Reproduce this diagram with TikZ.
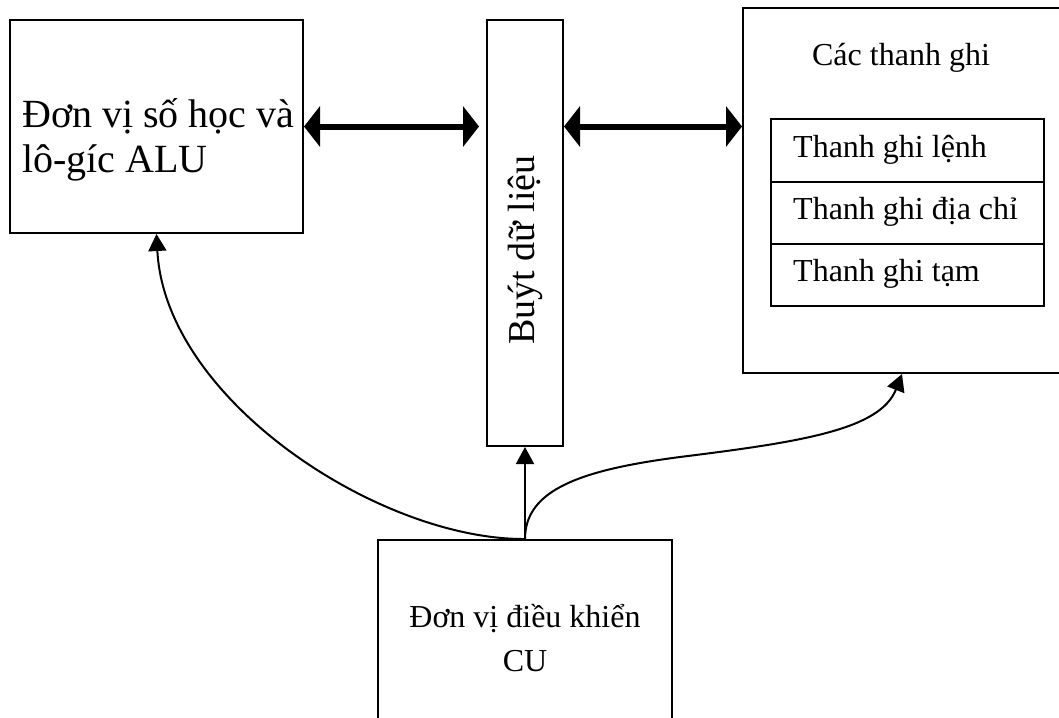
\documentclass[tikz,border=0pt]{standalone}
\usepackage{fontspec}
\setmainfont{Liberation Serif}
\usetikzlibrary{arrows.meta}
\begin{document}
\begin{tikzpicture}[x=1pt,y=-1pt,
  every node/.style={font=\fontsize{32}{44}\selectfont},
  big/.style={font=\fontsize{40}{45}\selectfont},
  busfont/.style={font=\fontsize{38}{44}\selectfont},
  box/.style={draw,line width=2pt,rectangle,inner sep=0pt},
  label/.style={inner sep=0pt,anchor=west},
  dbl/.style={line width=6pt,{Triangle[length=16pt,width=40pt]}-{Triangle[length=16pt,width=40pt]}},
  ctl/.style={line width=2pt,-{Triangle[length=17pt,width=18pt]}}]
\useasboundingbox (0,0) rectangle (1059,717);
\clip (0,0) rectangle (1059,717);
% main blocks
\node[box,minimum width=293pt,minimum height=213pt] (alu) at (156.5,126.5) {};
\node[box,minimum width=76pt,minimum height=426pt] (bus) at (525,233) {};
\node[box,minimum width=322pt,minimum height=365pt] (regs) at (904,190.5) {};
\node[box,minimum width=294pt,minimum height=200pt] (cu) at (525,640) {};
% register rows
\node[box,minimum width=273pt,minimum height=63pt] (r1) at (907.5,150.5) {};
\node[box,minimum width=273pt,minimum height=62pt] (r2) at (907.5,213) {};
\node[box,minimum width=273pt,minimum height=62pt] (r3) at (907.5,275) {};
% texts
\node[big,inner sep=0pt,anchor=base west] (alut1) at (22,127) {Đơn vị số học và};
\node[big,inner sep=0pt,anchor=base west] (alut2) at (22,172) {lô-gíc ALU};
\node[busfont,inner sep=0pt,rotate=90] (bust) at (525,250) {Buýt dữ liệu};
\node[inner sep=0pt] (regt) at (901,58) {Các thanh ghi};
\node[label] (r1t) at (793,150) {Thanh ghi lệnh};
\node[label] (r2t) at (793,212) {Thanh ghi địa chỉ};
\node[label] (r3t) at (793,274) {Thanh ghi tạm};
\node[inner sep=0pt,align=center,anchor=north] (cut) at (525,604) {Đơn vị điều khiển\\CU};
% data paths
\draw[dbl,shorten >=7pt] (alu.east) -- (alu.east -| bus.west);
\draw[dbl] (bus.east |- alu.east) -- (regs.west |- alu.east);
% control paths
\draw[ctl] (cu.north) -- (bus.south);
\draw[ctl] (cu.north) .. controls (380,540) and (165,400) .. (alu.south);
\coordinate (mid) at (680,457);
\draw[ctl] (cu.north) .. controls (525,490) and (580,470) .. (mid)
  .. controls (800,442) and (880,430) .. (regs.south -| 902,0);
\end{tikzpicture}
\end{document}
